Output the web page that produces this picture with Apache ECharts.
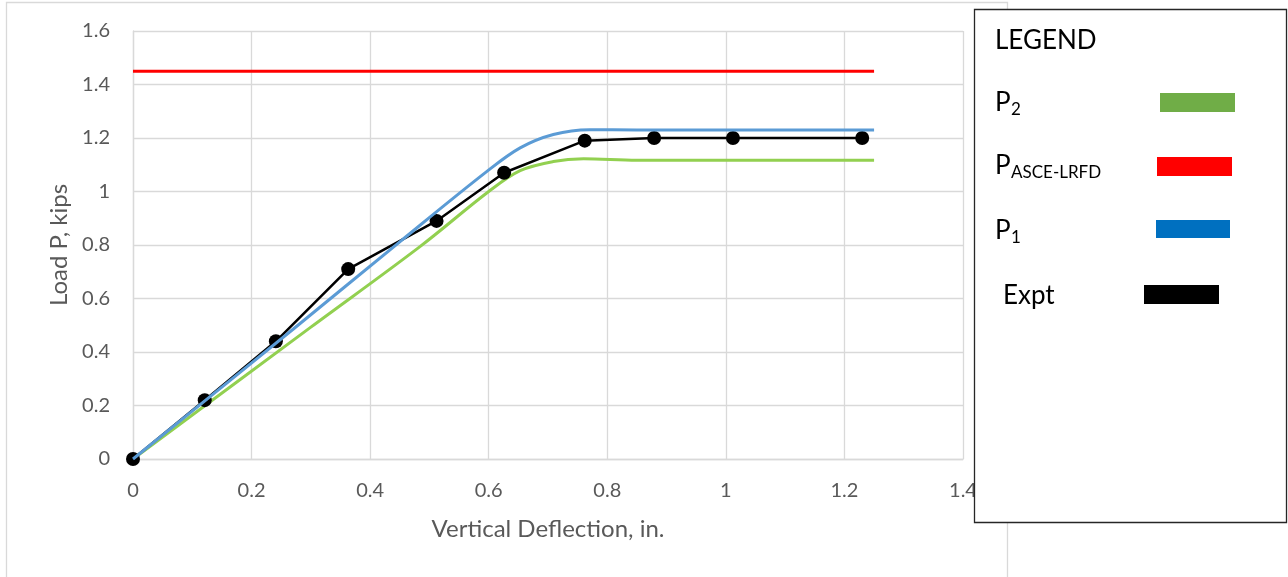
<!DOCTYPE html>
<html>
<head>
<meta charset="utf-8">
<title>Load vs Vertical Deflection</title>
<script src="https://cdn.jsdelivr.net/npm/echarts@6/dist/echarts.min.js"></script>
<style>
  html, body { margin: 0; padding: 0; background: #ffffff; }
  #chart { width: 1288px; height: 577px; }
</style>
</head>
<body>
<div id="chart"></div>
<script>
// Experimental load-deflection readings
const expDeflection = [0, 0.121, 0.241, 0.363, 0.512, 0.626, 0.762, 0.879, 1.012, 1.23];
const expLoad       = [0, 0.22, 0.44, 0.71, 0.89, 1.07, 1.19, 1.20, 1.20, 1.20];

// Predicted curve P1
const p1Deflection = [0, 0.27, 0.45, 0.597, 0.653, 0.709, 0.77, 0.85, 1.25];
const p1Load       = [0, 0.485, 0.812, 1.075, 1.163, 1.213, 1.231, 1.23, 1.23];

// Predicted curve P2
const p2Deflection = [0, 0.3, 0.484, 0.6, 0.653, 0.709, 0.76, 0.85, 1.25];
const p2Load       = [0, 0.493, 0.794, 1.0, 1.078, 1.112, 1.122, 1.117, 1.117];

// ASCE-LRFD design load
const lrfdDeflection = [0, 1.25];
const lrfdLoad       = [1.45, 1.45];

// Axis ticks
const xTicks = { min: 0, max: 1.4, step: 0.2 };
const yTicks = { min: 0, max: 1.6, step: 0.2 };

const pairs = (xs, ys) => xs.map((x, i) => [x, ys[i]]);

const FONT = 'Lato, "Open Sans", sans-serif';
const GRAY = '#595959';
const GRID = '#d9d9d9';

const chart = echarts.init(document.getElementById('chart'), null, { renderer: 'canvas' });

// Legend panel drawn as a framed box to the right of the plot
const legendItems = [
  { main: 'P',    sub: '2',         x: 995,  y: 103,   sw: { x: 1160, y: 93,  w: 75, h: 19, color: '#70AD47' } },
  { main: 'P',    sub: 'ASCE-LRFD', x: 995,  y: 166,   sw: { x: 1157, y: 157, w: 75, h: 19, color: '#FF0000' } },
  { main: 'P',    sub: '1',         x: 995,  y: 230.5, sw: { x: 1156, y: 220, w: 74, h: 18, color: '#0070C0' } },
  { main: 'Expt', sub: '',          x: 1003, y: 295.5, sw: { x: 1144, y: 285, w: 75, h: 19, color: '#000000' } }
];

const legendGraphics = [
  {
    type: 'rect', z: 100,
    shape: { x: 974.5, y: 9.5, width: 312, height: 513 },
    style: { fill: '#ffffff', stroke: '#262626', lineWidth: 1.3 }
  },
  {
    type: 'text', z: 101, x: 995, y: 41,
    style: { text: 'LEGEND', font: '26px ' + FONT, fill: '#000', verticalAlign: 'middle', align: 'left' }
  }
];
legendItems.forEach(it => {
  legendGraphics.push({
    type: 'text', z: 101, x: it.x, y: it.y,
    style: { text: it.main, font: '26px ' + FONT, fill: '#000', verticalAlign: 'middle', align: 'left' }
  });
  if (it.sub) {
    legendGraphics.push({
      type: 'text', z: 101, x: it.x + 16, y: it.y + 7,
      style: { text: it.sub, font: '17px ' + FONT, fill: '#000', verticalAlign: 'middle', align: 'left' }
    });
  }
  legendGraphics.push({
    type: 'rect', z: 101,
    shape: { x: it.sw.x, y: it.sw.y, width: it.sw.w, height: it.sw.h },
    style: { fill: it.sw.color }
  });
});

const option = {
  backgroundColor: '#ffffff',
  animation: false,
  textStyle: { fontFamily: FONT },
  grid: { left: 133, right: 325, top: 31, bottom: 118, outerBoundsMode: 'none' },
  xAxis: {
    type: 'value',
    min: xTicks.min, max: xTicks.max, interval: xTicks.step,
    name: 'Vertical Deflection, in.',
    nameLocation: 'middle', nameGap: 58,
    nameTextStyle: { color: GRAY, fontSize: 24, fontFamily: FONT },
    axisLine: { show: true, lineStyle: { color: GRID, width: 1.3 } },
    axisTick: { show: false },
    axisLabel: { color: GRAY, fontSize: 20, fontFamily: FONT, margin: 22, showMaxLabel: true, hideOverlap: false },
    splitLine: { show: true, lineStyle: { color: GRID, width: 1.3 } }
  },
  yAxis: {
    type: 'value',
    min: yTicks.min, max: yTicks.max, interval: yTicks.step,
    name: 'Load P, kips',
    nameLocation: 'middle', nameGap: 62,
    nameTextStyle: { color: GRAY, fontSize: 24, fontFamily: FONT },
    axisLine: { show: true, lineStyle: { color: GRID, width: 1.3 } },
    axisTick: { show: false },
    axisLabel: { color: GRAY, fontSize: 20, fontFamily: FONT, margin: 23 },
    splitLine: { show: true, lineStyle: { color: GRID, width: 1.3 } }
  },
  series: [
    {
      name: 'PASCE-LRFD', type: 'line', z: 2,
      data: pairs(lrfdDeflection, lrfdLoad),
      showSymbol: false, symbol: 'none',
      lineStyle: { color: '#FF0000', width: 3 }
    },
    {
      name: 'P2', type: 'line', z: 2,
      data: pairs(p2Deflection, p2Load),
      smooth: 0.35,
      showSymbol: false, symbol: 'none',
      lineStyle: { color: '#92D050', width: 3 }
    },
    {
      name: 'Expt', type: 'line', z: 3,
      data: pairs(expDeflection, expLoad),
      symbol: 'circle', symbolSize: 14,
      itemStyle: { color: '#000000' },
      lineStyle: { color: '#000000', width: 2.5 }
    },
    {
      name: 'P1', type: 'line', z: 4,
      data: pairs(p1Deflection, p1Load),
      smooth: 0.35,
      showSymbol: false, symbol: 'none',
      lineStyle: { color: '#5B9BD5', width: 3 }
    }
  ],
  graphic: [
    {
      type: 'rect', z: 0, silent: true,
      shape: { x: 6.5, y: 2.5, width: 1001, height: 620 },
      style: { fill: 'none', stroke: GRID, lineWidth: 1.3 }
    }
  ].concat(legendGraphics)
};

chart.setOption(option);
</script>
</body>
</html>
